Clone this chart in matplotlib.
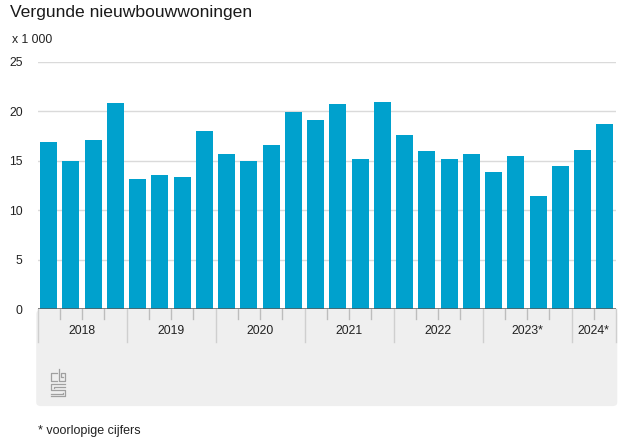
import matplotlib
matplotlib.use("Agg")
import matplotlib.pyplot as plt
from matplotlib.patches import FancyBboxPatch, Rectangle

plt.rcParams['font.family'] = ['Liberation Sans', 'DejaVu Sans']

# data (x 1 000 woningen), per kwartaal
years = ['2018', '2019', '2020', '2021', '2022', '2023*', '2024*']
quarters_per_year = [4, 4, 4, 4, 4, 4, 2]
values = [16.9, 15.0, 17.1, 20.8,
          13.2, 13.6, 13.4, 18.0,
          15.7, 15.0, 16.6, 19.9,
          19.1, 20.7, 15.2, 20.9,
          17.6, 16.0, 15.2, 15.7,
          13.9, 15.5, 11.4, 14.5,
          16.1, 18.7]
yticks = [0, 5, 10, 15, 20, 25]

W, H = 626, 440
fig = plt.figure(figsize=(W / 100, H / 100), dpi=100)


def fx(px):
    return px / W


def fy(py):
    return 1 - py / H


left, right, top, zero = 37.5, 616, 61.7, 309.3
ax = fig.add_axes([fx(left), fy(zero), fx(right - left), (zero - top) / H])
ax.set_facecolor('none')
ax.set_zorder(2)

# grijze band onder de as
band_col = '#efefef'
fig.patches.append(FancyBboxPatch((fx(left) + 0.006, fy(407) + 0.01),
                                  fx(right - left) - 0.012, (407 - zero) / H - 0.02,
                                  boxstyle='round,pad=0.008', transform=fig.transFigure,
                                  facecolor=band_col, edgecolor='none', zorder=-1))
fig.patches.append(Rectangle((fx(left), fy(360)), fx(right - left), (360 - zero) / H,
                             transform=fig.transFigure, facecolor=band_col,
                             edgecolor='none', zorder=-1))

x = list(range(len(values)))
ax.bar(x, values, width=0.77, color='#00a1cd', zorder=3)
ax.set_xlim(-0.5, len(values) - 0.5)
ax.set_ylim(0, 25)

ax.set_yticks(yticks)
ax.set_yticklabels([str(t) for t in yticks])
ax.tick_params(axis='y', length=0, pad=10.7, labelsize=8.8, labelcolor='#222222')
ax.set_xticks([])
for t in yticks[1:]:
    ax.axhline(t, color='#dadada', lw=1, zorder=1)
ax.axhline(0, color='#5a5a5a', lw=1.8, zorder=4)
for s in ax.spines.values():
    s.set_visible(False)

# kwartaal- en jaarstreepjes + jaarlabels
px_per_unit = (zero - top) / 25
start = 0
for yr, n in zip(years, quarters_per_year):
    b0 = start - 0.5
    ax.plot([b0, b0], [0, -33 / px_per_unit], color='#cfcfcf', lw=1, clip_on=False, zorder=2)
    for q in range(1, n):
        xb = b0 + q
        ax.plot([xb, xb], [0, -9.5 / px_per_unit], color='#bdbdbd', lw=1, clip_on=False, zorder=2)
    ax.text(b0 + n / 2, -25 / px_per_unit, yr, ha='center', va='baseline',
            fontsize=8.8, color='#222222', clip_on=False)
    start += n
xe = start - 0.5
ax.plot([xe, xe], [0, -33 / px_per_unit], color='#cfcfcf', lw=1, clip_on=False, zorder=2)

# cbs logo (vereenvoudigd)
lx, ly = 51, 369
logo = [
    [(6, 4), (0, 4), (0, 12), (6, 12)],
    [(8, 0), (8, 12), (14, 12), (14, 4), (10, 4), (10, 8), (12, 8)],
    [(14, 15), (0, 15), (0, 21), (14, 21), (14, 27), (0, 27)],
    [(14, 17.5), (2.5, 17.5), (2.5, 18.5)],
    [(0, 24.5), (11.5, 24.5), (11.5, 23.5)],
]
for part in logo:
    xs = [fx(lx + p[0]) for p in part]
    ys = [fy(ly + p[1]) for p in part]
    fig.add_artist(plt.Line2D(xs, ys, transform=fig.transFigure, color='#a0a0a0', lw=0.9))

fig.text(fx(10.5), fy(16.7), 'Vergunde nieuwbouwwoningen', fontsize=12.6,
         color='#1a1a1a', va='baseline', ha='left')
fig.text(fx(12), fy(43.3), 'x 1 000', fontsize=8.8, color='#222222', va='baseline', ha='left')
fig.text(fx(38.5), fy(434), '* voorlopige cijfers', fontsize=9.0, color='#222222',
         va='baseline', ha='left')

fig.savefig('out.png', dpi=100)
